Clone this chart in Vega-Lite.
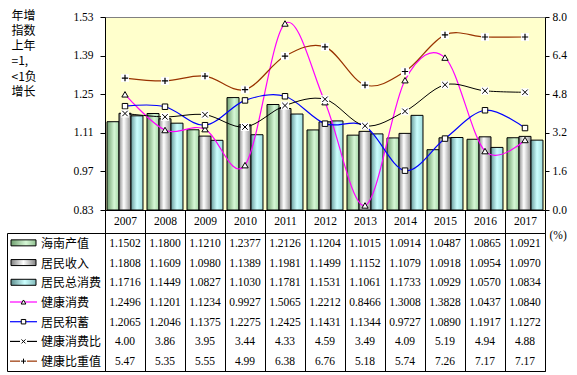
{
  "$schema": "https://vega.github.io/schema/vega-lite/v6.json",
  "background": "white",
  "padding": {"left": 6, "top": 8, "right": 4, "bottom": 4},
  "datasets": {
    "d": [
      {"year": "2007", "series": "海南产值", "value": 1.1502},
      {"year": "2008", "series": "海南产值", "value": 1.1800},
      {"year": "2009", "series": "海南产值", "value": 1.1210},
      {"year": "2010", "series": "海南产值", "value": 1.2377},
      {"year": "2011", "series": "海南产值", "value": 1.2126},
      {"year": "2012", "series": "海南产值", "value": 1.1204},
      {"year": "2013", "series": "海南产值", "value": 1.1015},
      {"year": "2014", "series": "海南产值", "value": 1.0914},
      {"year": "2015", "series": "海南产值", "value": 1.0487},
      {"year": "2016", "series": "海南产值", "value": 1.0865},
      {"year": "2017", "series": "海南产值", "value": 1.0921},
      {"year": "2007", "series": "居民收入", "value": 1.1808},
      {"year": "2008", "series": "居民收入", "value": 1.1609},
      {"year": "2009", "series": "居民收入", "value": 1.0980},
      {"year": "2010", "series": "居民收入", "value": 1.1389},
      {"year": "2011", "series": "居民收入", "value": 1.1981},
      {"year": "2012", "series": "居民收入", "value": 1.1499},
      {"year": "2013", "series": "居民收入", "value": 1.1152},
      {"year": "2014", "series": "居民收入", "value": 1.1079},
      {"year": "2015", "series": "居民收入", "value": 1.0918},
      {"year": "2016", "series": "居民收入", "value": 1.0954},
      {"year": "2017", "series": "居民收入", "value": 1.0970},
      {"year": "2007", "series": "居民总消费", "value": 1.1716},
      {"year": "2008", "series": "居民总消费", "value": 1.1449},
      {"year": "2009", "series": "居民总消费", "value": 1.0827},
      {"year": "2010", "series": "居民总消费", "value": 1.1030},
      {"year": "2011", "series": "居民总消费", "value": 1.1781},
      {"year": "2012", "series": "居民总消费", "value": 1.1531},
      {"year": "2013", "series": "居民总消费", "value": 1.1061},
      {"year": "2014", "series": "居民总消费", "value": 1.1733},
      {"year": "2015", "series": "居民总消费", "value": 1.0929},
      {"year": "2016", "series": "居民总消费", "value": 1.0570},
      {"year": "2017", "series": "居民总消费", "value": 1.0834},
      {"year": "2007", "series": "健康消费", "value": 1.2496},
      {"year": "2008", "series": "健康消费", "value": 1.1201},
      {"year": "2009", "series": "健康消费", "value": 1.1234},
      {"year": "2010", "series": "健康消费", "value": 0.9927},
      {"year": "2011", "series": "健康消费", "value": 1.5065},
      {"year": "2012", "series": "健康消费", "value": 1.2212},
      {"year": "2013", "series": "健康消费", "value": 0.8466},
      {"year": "2014", "series": "健康消费", "value": 1.3008},
      {"year": "2015", "series": "健康消费", "value": 1.3828},
      {"year": "2016", "series": "健康消费", "value": 1.0437},
      {"year": "2017", "series": "健康消费", "value": 1.0840},
      {"year": "2007", "series": "居民积蓄", "value": 1.2065},
      {"year": "2008", "series": "居民积蓄", "value": 1.2046},
      {"year": "2009", "series": "居民积蓄", "value": 1.1375},
      {"year": "2010", "series": "居民积蓄", "value": 1.2275},
      {"year": "2011", "series": "居民积蓄", "value": 1.2425},
      {"year": "2012", "series": "居民积蓄", "value": 1.1431},
      {"year": "2013", "series": "居民积蓄", "value": 1.1344},
      {"year": "2014", "series": "居民积蓄", "value": 0.9727},
      {"year": "2015", "series": "居民积蓄", "value": 1.0890},
      {"year": "2016", "series": "居民积蓄", "value": 1.1917},
      {"year": "2017", "series": "居民积蓄", "value": 1.1272},
      {"year": "2007", "series": "健康消费比", "value": 4.00},
      {"year": "2008", "series": "健康消费比", "value": 3.86},
      {"year": "2009", "series": "健康消费比", "value": 3.95},
      {"year": "2010", "series": "健康消费比", "value": 3.44},
      {"year": "2011", "series": "健康消费比", "value": 4.33},
      {"year": "2012", "series": "健康消费比", "value": 4.59},
      {"year": "2013", "series": "健康消费比", "value": 3.49},
      {"year": "2014", "series": "健康消费比", "value": 4.09},
      {"year": "2015", "series": "健康消费比", "value": 5.19},
      {"year": "2016", "series": "健康消费比", "value": 4.94},
      {"year": "2017", "series": "健康消费比", "value": 4.88},
      {"year": "2007", "series": "健康比重值", "value": 5.47},
      {"year": "2008", "series": "健康比重值", "value": 5.35},
      {"year": "2009", "series": "健康比重值", "value": 5.55},
      {"year": "2010", "series": "健康比重值", "value": 4.99},
      {"year": "2011", "series": "健康比重值", "value": 6.38},
      {"year": "2012", "series": "健康比重值", "value": 6.76},
      {"year": "2013", "series": "健康比重值", "value": 5.18},
      {"year": "2014", "series": "健康比重值", "value": 5.74},
      {"year": "2015", "series": "健康比重值", "value": 7.26},
      {"year": "2016", "series": "健康比重值", "value": 7.17},
      {"year": "2017", "series": "健康比重值", "value": 7.17}
    ]
  },
  "columns": 2,
  "bounds": "flush",
  "spacing": {"row": 23, "column": 0},
  "concat": [
    {
      "width": 98,
      "height": 193,
      "data": {"values": []},
      "mark": {"type": "point", "opacity": 0},
      "view": {"stroke": null}
    },
    {
      "width": 440,
      "height": 193,
      "view": {"fill": "#FFFFCC", "stroke": "#808080"},
      "data": {"name": "d"},
      "encoding": {
        "x": {
          "field": "year",
          "type": "ordinal",
          "scale": {"paddingInner": 0, "paddingOuter": 0},
          "axis": {
            "title": null,
            "labelAngle": 0,
            "tickBand": "extent",
            "tickSize": 23,
            "labelPadding": -11.5,
            "labelBaseline": "middle",
            "labelFontSize": 11.5,
            "domainColor": "black",
            "tickColor": "black"
          }
        }
      },
      "layer": [
        {
          "encoding": {
            "y": {
              "field": "value",
              "type": "quantitative",
              "scale": {"domain": [0.83, 1.53], "nice": false, "zero": false},
              "axis": {
                "orient": "left",
                "values": [0.83, 0.97, 1.11, 1.25, 1.39, 1.53],
                "format": ".2f",
                "tickSize": 5,
                "labelPadding": 7,
                "labelFontSize": 11.5,
                "title": ["年增", "指数", "上年", "=1,", "<1负", "增长"],
                "titleAngle": 0,
                "titleAlign": "left",
                "titleBaseline": "top",
                "titleX": -94,
                "titleY": -7,
                "titleFont": "Noto Sans CJK SC",
                "titleFontSize": 12,
                "titleFontWeight": "normal",
                "titleLineHeight": 15.3,
                "titleColor": "black"
              }
            }
          },
          "layer": [
            {
              "transform": [{"filter": "datum.series === '海南产值'"}],
              "mark": {
                "type": "bar",
                "stroke": "black",
                "strokeWidth": 1,
                "fill": {"gradient": "linear", "x1": 0, "y1": 0, "x2": 1, "y2": 0,
                  "stops": [{"offset": 0, "color": "#6f9f6f"}, {"offset": 0.6, "color": "#d6f7d6"}, {"offset": 1, "color": "#a8d8a8"}]}
              },
              "encoding": {
                "xOffset": {"field": "series", "scale": {"domain": ["海南产值", "居民收入", "居民总消费"], "paddingInner": 0, "paddingOuter": 0.1667}},
                "y2": {"datum": 0.83}
              }
            },
            {
              "transform": [{"filter": "datum.series === '居民收入'"}],
              "mark": {
                "type": "bar",
                "stroke": "black",
                "strokeWidth": 1,
                "fill": {"gradient": "linear", "x1": 0, "y1": 0, "x2": 1, "y2": 0,
                  "stops": [{"offset": 0, "color": "#8a8a8a"}, {"offset": 0.4, "color": "#ffffff"}, {"offset": 1, "color": "#909090"}]}
              },
              "encoding": {
                "xOffset": {"field": "series", "scale": {"domain": ["海南产值", "居民收入", "居民总消费"], "paddingInner": 0, "paddingOuter": 0.1667}},
                "y2": {"datum": 0.83}
              }
            },
            {
              "transform": [{"filter": "datum.series === '居民总消费'"}],
              "mark": {
                "type": "bar",
                "stroke": "black",
                "strokeWidth": 1,
                "fill": {"gradient": "linear", "x1": 0, "y1": 0, "x2": 1, "y2": 0,
                  "stops": [{"offset": 0, "color": "#6a9c9c"}, {"offset": 0.5, "color": "#ccffff"}, {"offset": 1, "color": "#a0dcdc"}]}
              },
              "encoding": {
                "xOffset": {"field": "series", "scale": {"domain": ["海南产值", "居民收入", "居民总消费"], "paddingInner": 0, "paddingOuter": 0.1667}},
                "y2": {"datum": 0.83}
              }
            },
            {
              "transform": [{"filter": "datum.series === '健康消费'"}],
              "mark": {"type": "line", "color": "#FF00FF", "strokeWidth": 1.2, "interpolate": "cardinal"}
            },
            {
              "transform": [{"filter": "datum.series === '居民积蓄'"}],
              "mark": {"type": "line", "color": "#0000FF", "strokeWidth": 1.2, "interpolate": "cardinal"}
            },
            {
              "transform": [{"filter": "datum.series === '健康消费'"}],
              "mark": {"type": "point", "shape": "triangle-up", "filled": true, "fill": "white", "stroke": "black", "strokeWidth": 1, "size": 40, "opacity": 1}
            },
            {
              "transform": [{"filter": "datum.series === '居民积蓄'"}],
              "mark": {"type": "point", "shape": "square", "filled": true, "fill": "white", "stroke": "black", "strokeWidth": 1, "size": 30, "opacity": 1}
            }
          ]
        },
        {
          "encoding": {
            "y": {
              "field": "value",
              "type": "quantitative",
              "scale": {"domain": [0, 8], "nice": false, "zero": false},
              "axis": {
                "orient": "right",
                "values": [0, 1.6, 3.2, 4.8, 6.4, 8],
                "format": ".1f",
                "tickSize": 4,
                "labelPadding": 3,
                "labelFontSize": 11.5,
                "title": "(%)",
                "titleAngle": 0,
                "titleAlign": "left",
                "titleBaseline": "middle",
                "titleX": 4,
                "titleY": 218,
                "titleFont": "Liberation Serif",
                "titleFontSize": 11.5,
                "titleFontWeight": "normal",
                "titleColor": "black"
              }
            }
          },
          "layer": [
            {
              "transform": [{"filter": "datum.series === '健康消费比'"}],
              "mark": {"type": "line", "color": "#000000", "strokeWidth": 1, "interpolate": "cardinal"}
            },
            {
              "transform": [{"filter": "datum.series === '健康比重值'"}],
              "mark": {"type": "line", "color": "#993300", "strokeWidth": 1.2, "interpolate": "cardinal"}
            },
            {
              "transform": [{"filter": "datum.series === '健康消费比' || datum.series === '健康比重值'"}],
              "mark": {"type": "point", "shape": "square", "filled": true, "fill": "white", "strokeWidth": 0, "size": 64, "opacity": 1}
            },
            {
              "transform": [{"filter": "datum.series === '健康消费比'"}],
              "mark": {"type": "point", "shape": "M-1,-1L1,1M-1,1L1,-1", "filled": false, "stroke": "black", "strokeWidth": 1, "size": 30, "opacity": 1}
            },
            {
              "transform": [{"filter": "datum.series === '健康比重值'"}],
              "mark": {"type": "point", "shape": "M-1,0H1M0,-1V1", "filled": false, "stroke": "black", "strokeWidth": 1.2, "size": 40, "opacity": 1}
            }
          ]
        }
      ],
      "resolve": {"scale": {"y": "independent"}}
    },
    {
      "width": 98,
      "height": 138,
      "view": {"stroke": "black", "strokeWidth": 1},
      "data": {"name": "d"},
      "transform": [{"filter": "datum.year === '2007'"}],
      "encoding": {
        "y": {
          "field": "series",
          "type": "nominal",
          "scale": {"domain": ["海南产值", "居民收入", "居民总消费", "健康消费", "居民积蓄", "健康消费比", "健康比重值"], "paddingInner": 0, "paddingOuter": 0},
          "axis": null
        }
      },
      "layer": [
        {
          "transform": [{"filter": "datum.series === '海南产值'"}],
          "mark": {"type": "bar", "height": 6, "stroke": "black", "strokeWidth": 1,
            "fill": {"gradient": "linear", "x1": 0, "y1": 0, "x2": 1, "y2": 0,
              "stops": [{"offset": 0, "color": "#6f9f6f"}, {"offset": 0.6, "color": "#d6f7d6"}, {"offset": 1, "color": "#8fbf8f"}]}},
          "encoding": {
            "x": {"datum": 4, "type": "quantitative", "scale": {"domain": [0, 98], "nice": false, "zero": false}, "axis": null},
            "x2": {"datum": 29}
          }
        },
        {
          "transform": [{"filter": "datum.series === '居民收入'"}],
          "mark": {"type": "bar", "height": 6, "stroke": "black", "strokeWidth": 1,
            "fill": {"gradient": "linear", "x1": 0, "y1": 0, "x2": 1, "y2": 0,
              "stops": [{"offset": 0, "color": "#808080"}, {"offset": 0.5, "color": "#ffffff"}, {"offset": 1, "color": "#808080"}]}},
          "encoding": {
            "x": {"datum": 4, "type": "quantitative", "scale": {"domain": [0, 98], "nice": false, "zero": false}, "axis": null},
            "x2": {"datum": 29}
          }
        },
        {
          "transform": [{"filter": "datum.series === '居民总消费'"}],
          "mark": {"type": "bar", "height": 6, "stroke": "black", "strokeWidth": 1,
            "fill": {"gradient": "linear", "x1": 0, "y1": 0, "x2": 1, "y2": 0,
              "stops": [{"offset": 0, "color": "#5f8f8f"}, {"offset": 0.55, "color": "#ccffff"}, {"offset": 1, "color": "#80b8b8"}]}},
          "encoding": {
            "x": {"datum": 4, "type": "quantitative", "scale": {"domain": [0, 98], "nice": false, "zero": false}, "axis": null},
            "x2": {"datum": 29}
          }
        },
        {
          "transform": [{"filter": "datum.series === '健康消费' || datum.series === '居民积蓄' || datum.series === '健康消费比' || datum.series === '健康比重值'"}],
          "mark": {"type": "rule", "strokeWidth": 1.2},
          "encoding": {
            "x": {"datum": 3, "type": "quantitative", "scale": {"domain": [0, 98], "nice": false, "zero": false}, "axis": null},
            "x2": {"datum": 30},
            "color": {
              "field": "series",
              "type": "nominal",
              "scale": {"domain": ["健康消费", "居民积蓄", "健康消费比", "健康比重值"], "range": ["#FF00FF", "#0000FF", "#000000", "#993300"]},
              "legend": null
            }
          }
        },
        {
          "transform": [{"filter": "datum.series === '健康消费比' || datum.series === '健康比重值'"}],
          "mark": {"type": "point", "shape": "square", "filled": true, "fill": "white", "strokeWidth": 0, "size": 49, "opacity": 1},
          "encoding": {
            "x": {"datum": 16.5, "type": "quantitative", "scale": {"domain": [0, 98], "nice": false, "zero": false}, "axis": null}
          }
        },
        {
          "transform": [{"filter": "datum.series === '健康消费'"}],
          "mark": {"type": "point", "shape": "triangle-up", "filled": true, "fill": "white", "stroke": "black", "strokeWidth": 1, "size": 22, "opacity": 1},
          "encoding": {
            "x": {"datum": 16.5, "type": "quantitative", "scale": {"domain": [0, 98], "nice": false, "zero": false}, "axis": null}
          }
        },
        {
          "transform": [{"filter": "datum.series === '居民积蓄'"}],
          "mark": {"type": "point", "shape": "square", "filled": true, "fill": "white", "stroke": "black", "strokeWidth": 1, "size": 20, "opacity": 1},
          "encoding": {
            "x": {"datum": 16.5, "type": "quantitative", "scale": {"domain": [0, 98], "nice": false, "zero": false}, "axis": null}
          }
        },
        {
          "transform": [{"filter": "datum.series === '健康消费比'"}],
          "mark": {"type": "point", "shape": "M-1,-1L1,1M-1,1L1,-1", "filled": false, "stroke": "black", "strokeWidth": 1, "size": 16, "opacity": 1},
          "encoding": {
            "x": {"datum": 16.5, "type": "quantitative", "scale": {"domain": [0, 98], "nice": false, "zero": false}, "axis": null}
          }
        },
        {
          "transform": [{"filter": "datum.series === '健康比重值'"}],
          "mark": {"type": "point", "shape": "M-1,0H1M0,-1V1", "filled": false, "stroke": "black", "strokeWidth": 1, "size": 25, "opacity": 1},
          "encoding": {
            "x": {"datum": 16.5, "type": "quantitative", "scale": {"domain": [0, 98], "nice": false, "zero": false}, "axis": null}
          }
        },
        {
          "mark": {"type": "text", "align": "left", "baseline": "middle", "font": "Noto Sans CJK SC", "fontSize": 12, "color": "black", "dy": 1},
          "encoding": {
            "x": {"datum": 34, "type": "quantitative", "scale": {"domain": [0, 98], "nice": false, "zero": false}, "axis": null},
            "text": {"field": "series"}
          }
        }
      ]
    },
    {
      "width": 440,
      "height": 138,
      "view": {"stroke": "black", "strokeWidth": 1},
      "data": {"name": "d"},
      "encoding": {
        "x": {
          "field": "year",
          "type": "ordinal",
          "scale": {"paddingInner": 0, "paddingOuter": 0},
          "axis": {"title": null, "labels": false, "ticks": false, "domain": false, "grid": true, "tickBand": "extent", "gridColor": "black", "gridOpacity": 1, "gridWidth": 1}
        },
        "y": {
          "field": "series",
          "type": "nominal",
          "scale": {"domain": ["海南产值", "居民收入", "居民总消费", "健康消费", "居民积蓄", "健康消费比", "健康比重值"], "paddingInner": 0, "paddingOuter": 0},
          "axis": null
        }
      },
      "layer": [
        {
          "transform": [{"filter": "datum.series !== '健康消费比' && datum.series !== '健康比重值'"}],
          "mark": {"type": "text", "font": "Liberation Serif", "fontSize": 11.5, "color": "black", "baseline": "middle", "dy": 1},
          "encoding": {"text": {"field": "value", "type": "quantitative", "format": ".4f"}}
        },
        {
          "transform": [{"filter": "datum.series === '健康消费比' || datum.series === '健康比重值'"}],
          "mark": {"type": "text", "font": "Liberation Serif", "fontSize": 11.5, "color": "black", "baseline": "middle", "dy": 1},
          "encoding": {"text": {"field": "value", "type": "quantitative", "format": ".2f"}}
        }
      ]
    }
  ],
  "config": {
    "view": {"stroke": null},
    "axis": {
      "labelFont": "Liberation Serif",
      "labelColor": "black",
      "domainColor": "black",
      "tickColor": "black",
      "grid": false,
      "labelFontSize": 11.5
    }
  }
}
